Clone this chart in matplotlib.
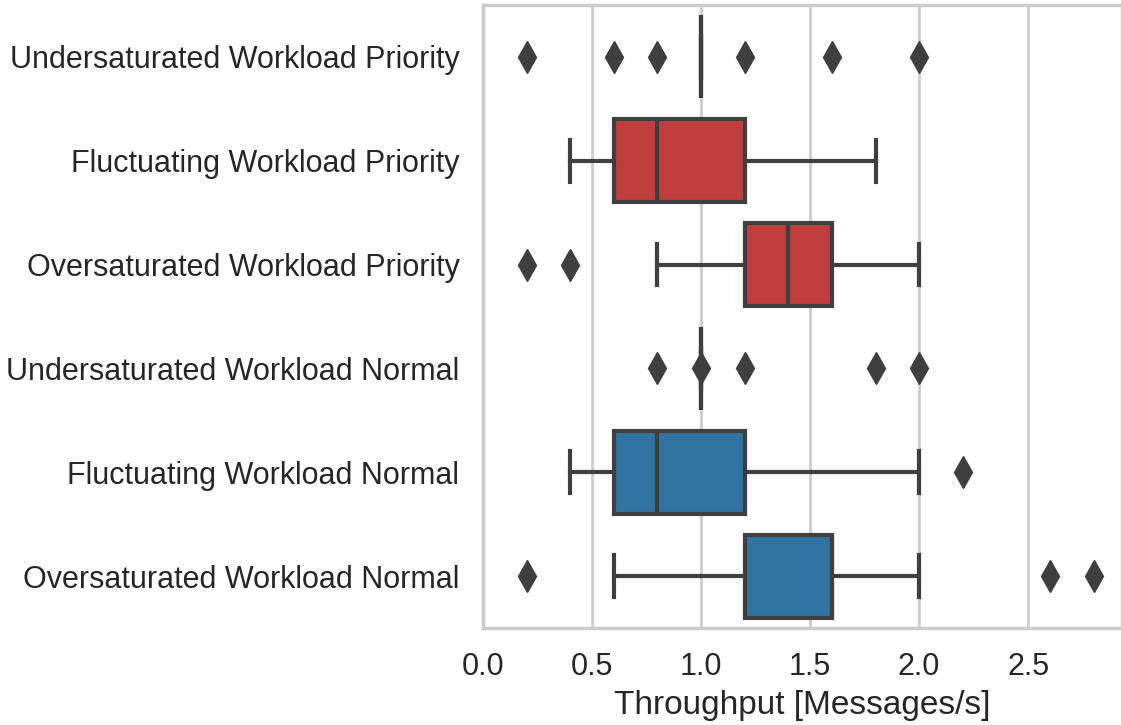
import matplotlib
matplotlib.use("Agg")
import matplotlib.pyplot as plt

categories = [
    "Undersaturated Workload Priority",
    "Fluctuating Workload Priority",
    "Oversaturated Workload Priority",
    "Undersaturated Workload Normal",
    "Fluctuating Workload Normal",
    "Oversaturated Workload Normal",
]
q1 = [1.0, 0.6, 1.2, 1.0, 0.6, 1.2]
median = [1.0, 0.8, 1.4, 1.0, 0.8, 1.6]
q3 = [1.0, 1.2, 1.6, 1.0, 1.2, 1.6]
whisker_low = [1.0, 0.4, 0.8, 1.0, 0.4, 0.6]
whisker_high = [1.0, 1.8, 2.0, 1.0, 2.0, 2.0]
fliers = [
    [0.2, 0.6, 0.8, 1.2, 1.6, 2.0],
    [],
    [0.2, 0.4],
    [0.8, 1.0, 1.2, 1.8, 2.0],
    [2.2],
    [0.2, 2.6, 2.8],
]
box_colors = ["#c03d3e", "#c03d3e", "#c03d3e", "#3274a1", "#3274a1", "#3274a1"]

plt.rcParams["font.family"] = ["Liberation Sans", "DejaVu Sans"]

fig = plt.figure(figsize=(11.21, 7.25), dpi=100)
ax = fig.add_axes([483 / 1121, 1 - 628 / 725, (1122 - 483) / 1121, (628 - 5) / 725])

stats = []
for i in range(len(categories)):
    stats.append(dict(med=median[i], q1=q1[i], q3=q3[i],
                      whislo=whisker_low[i], whishi=whisker_high[i],
                      fliers=fliers[i], label=categories[i]))

edge = "#3f3f3f"
lw = 3.0
positions = list(range(len(categories)))
bp = ax.bxp(stats, positions=positions, vert=False, widths=0.8,
            patch_artist=True, showfliers=True,
            boxprops=dict(edgecolor=edge, linewidth=lw),
            medianprops=dict(color=edge, linewidth=lw),
            whiskerprops=dict(color=edge, linewidth=lw),
            capprops=dict(color=edge, linewidth=lw),
            flierprops=dict(marker="d", markersize=16, markerfacecolor=edge,
                            markeredgecolor=edge, linestyle="none"),
            capwidths=0.4)
for patch, c in zip(bp["boxes"], box_colors):
    patch.set_facecolor(c)

ax.set_ylim(len(categories) - 0.5, -0.5)
ax.set_xlim(0, 2.93)
ax.set_yticks(positions)
ax.set_yticklabels(categories)
ax.set_xticks([0.0, 0.5, 1.0, 1.5, 2.0, 2.5])
ax.set_xticklabels(["0.0", "0.5", "1.0", "1.5", "2.0", "2.5"])
ax.tick_params(axis="both", labelsize=22, length=0, pad=17, colors="#262626")
ax.set_xlabel("Throughput [Messages/s]", fontsize=24, color="#262626", labelpad=6)

ax.set_axisbelow(True)
ax.xaxis.grid(True, color="#cccccc", linewidth=2)
ax.yaxis.grid(False)
for s in ax.spines.values():
    s.set_color("#cccccc")
    s.set_linewidth(2.5)

fig.savefig("out.png", dpi=100)
